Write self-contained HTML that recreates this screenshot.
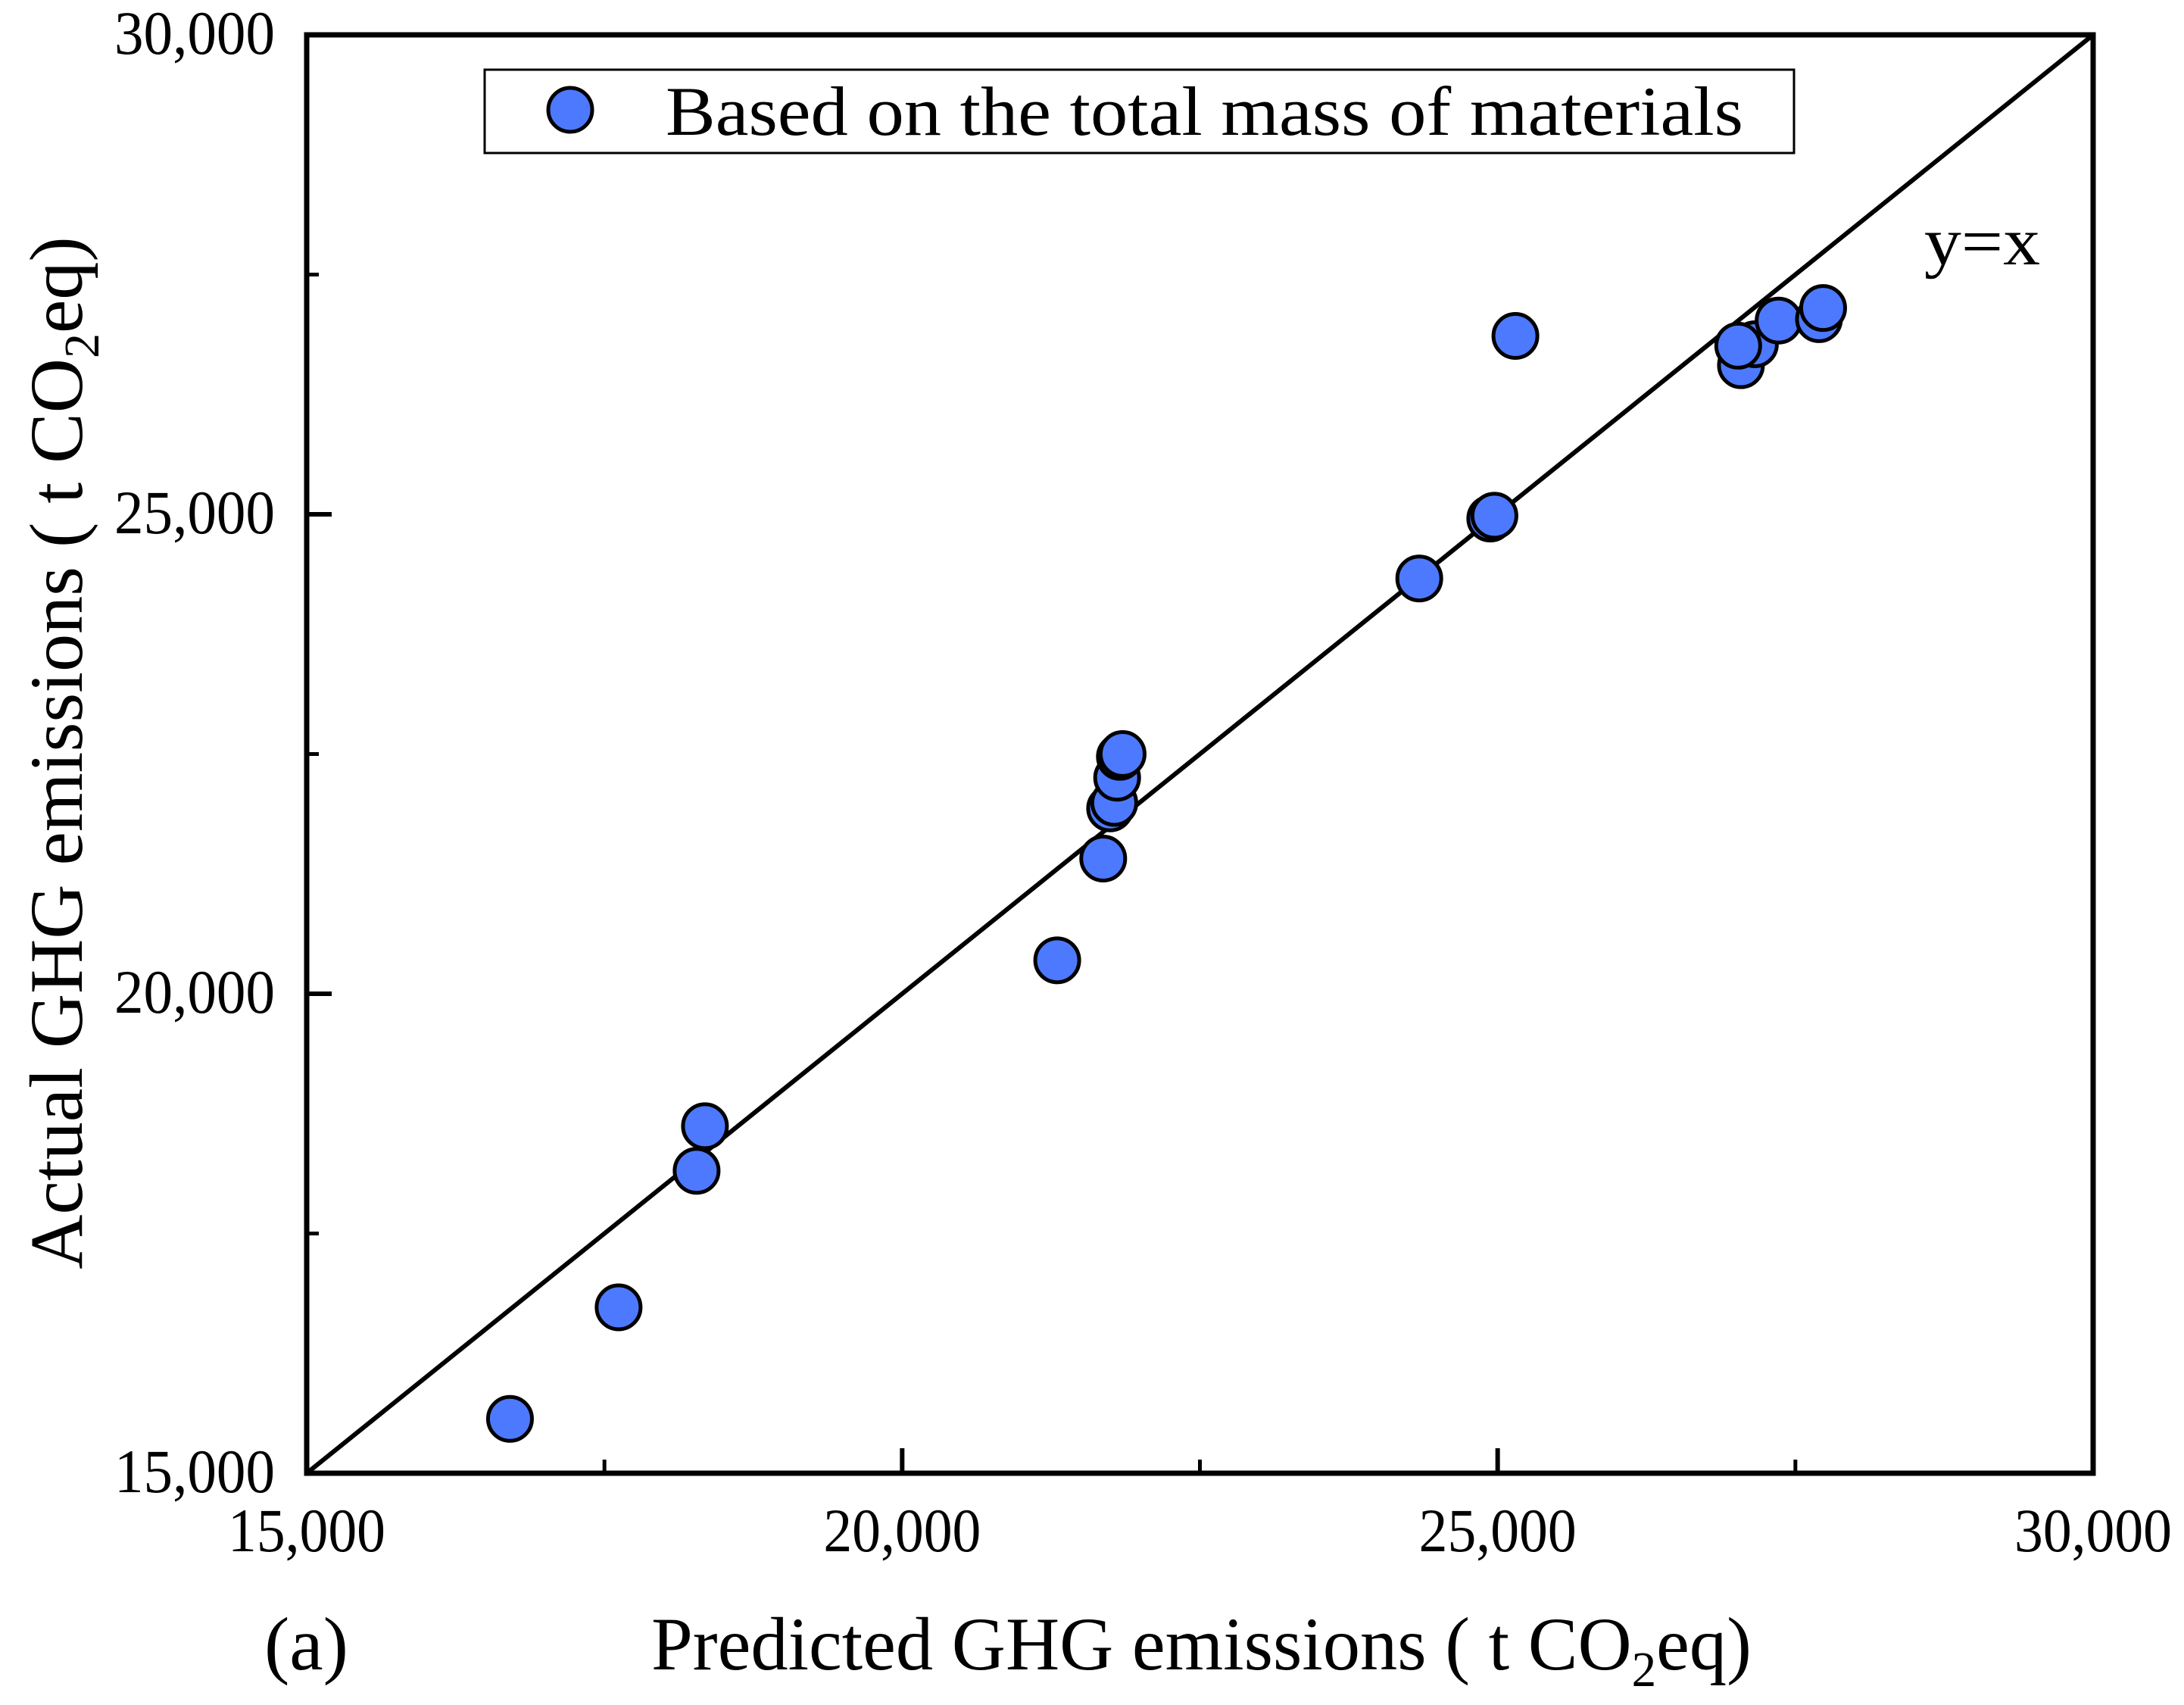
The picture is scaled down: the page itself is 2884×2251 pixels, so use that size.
<!DOCTYPE html>
<html><head><meta charset="utf-8"><style>
html,body{margin:0;padding:0;background:#fff;}
svg{display:block;font-family:"Liberation Serif",serif;}
</style></head><body>
<svg id="chart" width="2884" height="2251" viewBox="0 0 2884 2251">
<g id="marks"></g>
<g id="axes"></g>
<g>
<rect x="640" y="92" width="1729" height="110" fill="#fff" stroke="#000" stroke-width="3"/>
<circle cx="753" cy="145" r="29" fill="#4d79ff" stroke="#000" stroke-width="5"/>
<text x="879" y="178" font-size="92" textLength="1423" lengthAdjust="spacingAndGlyphs">Based on the total mass of materials</text>
</g>
<text x="2541" y="349" font-size="90" textLength="153" lengthAdjust="spacingAndGlyphs">y=x</text>
<text x="349" y="2204" font-size="100">(a)</text>
<text x="860" y="2204" font-size="100" textLength="1453" lengthAdjust="spacingAndGlyphs">Predicted GHG emissions ( t CO<tspan font-size="66" dy="22">2</tspan><tspan dy="-22">eq)</tspan></text>
<text transform="translate(108,994) rotate(-90)" text-anchor="middle" font-size="100">Actual GHG emissions ( t CO<tspan font-size="66" dy="22">2</tspan><tspan dy="-22">eq)</tspan></text>
</svg>
<script>
const predicted = [16707,17619,18274,18344,21302,21688,21746,21781,21805,21828,21851,24342,24938,24973,25149,27043,27160,27020,27359,27698,27733];
const actual    = [15567,16730,18154,18619,20349,21410,21933,21991,22253,22471,22500,24331,24956,24985,26860,26555,26773,26758,27020,27035,27151];
const majorTicks = [15000,20000,25000,30000];
const minorTicks = [17500,22500,27500];
const tickLabels = ["15,000","20,000","25,000","30,000"];

const NS="http://www.w3.org/2000/svg";
const L=405,R=2764,T=46,B=1945,MIN=15000,MAX=30000;
const sx=v=>L+(v-MIN)/(MAX-MIN)*(R-L);
const sy=v=>B-(v-MIN)/(MAX-MIN)*(B-T);
function mk(tag,attrs,parent){const e=document.createElementNS(NS,tag);for(const k in attrs)e.setAttribute(k,attrs[k]);parent.appendChild(e);return e;}
const marks=document.getElementById('marks'),axes=document.getElementById('axes');

const ln=mk('line',{x1:sx(MIN),y1:sy(MIN),x2:sx(MAX),y2:sy(MAX),stroke:'#000','stroke-width':6},marks);



predicted.forEach((p,i)=>{
  const c=mk('circle',{cx:sx(p),cy:sy(actual[i]),r:29,fill:'#4d79ff',stroke:'#000','stroke-width':5},marks);
  
  
});

const frame=mk('rect',{x:L,y:T,width:R-L,height:B-T,fill:'none',stroke:'#000','stroke-width':7},axes);



majorTicks.forEach((v,i)=>{
  const a=mk('line',{x1:sx(v),y1:B,x2:sx(v),y2:B-33,stroke:'#000','stroke-width':6},axes);
  
  
  const b=mk('line',{x1:L,y1:sy(v),x2:L+33,y2:sy(v),stroke:'#000','stroke-width':6},axes);
  
  
  const tx=mk('text',{x:sx(v),y:2048,'text-anchor':'middle','font-size':82,textLength:208,lengthAdjust:'spacingAndGlyphs'},axes);
  tx.textContent=tickLabels[i];
  
  
  const ty=mk('text',{x:363,y:sy(v)+25,'text-anchor':'end','font-size':82,textLength:212,lengthAdjust:'spacingAndGlyphs'},axes);
  ty.textContent=tickLabels[i];
  
  
});
minorTicks.forEach(v=>{
  const a=mk('line',{x1:sx(v),y1:B,x2:sx(v),y2:B-18,stroke:'#000','stroke-width':5},axes);
  
  
  const b=mk('line',{x1:L,y1:sy(v),x2:L+16,y2:sy(v),stroke:'#000','stroke-width':5},axes);
  
  
});
</script>
</body></html>
